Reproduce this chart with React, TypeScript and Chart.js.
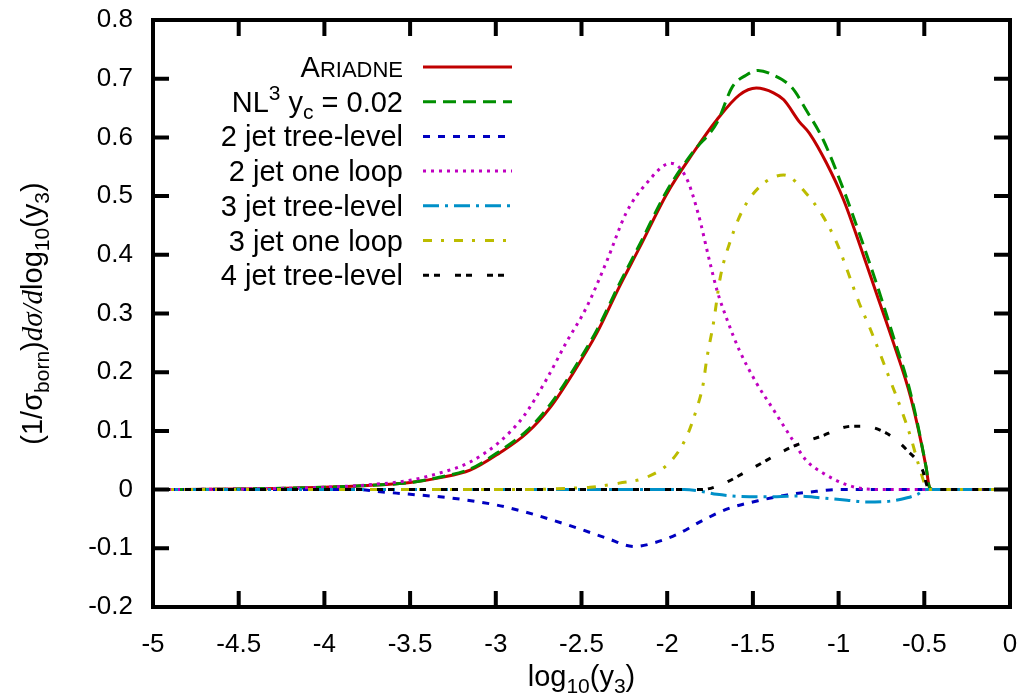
import { useEffect, useRef } from 'react';
import { Chart, registerables } from 'chart.js';

Chart.register(...registerables);

// ---------------- data ----------------
const xTickMin = -5;
const xTickMax = 0;
const xTickStep = 0.5;
const yTickMin = -0.2;
const yTickMax = 0.8;
const yTickStep = 0.1;

const seriesLabels = [
  'Ariadne',
  'NL3 yc = 0.02',
  '2 jet tree-level',
  '2 jet one loop',
  '3 jet tree-level',
  '3 jet one loop',
  '4 jet tree-level',
];

const ariadneX = [-5, -4.5, -4, -3.75, -3.5, -3.33, -3.15, -2.98, -2.82, -2.68, -2.55, -2.41, -2.28, -2.16, -2.0, -1.85, -1.71, -1.58, -1.48, -1.38, -1.32, -1.23, -1.17, -1.07, -0.97, -0.88, -0.78, -0.68, -0.58, -0.49, -0.47, -0.45, 0];
const ariadneY = [0, 0.001, 0.004, 0.007, 0.012, 0.02, 0.033, 0.062, 0.096, 0.141, 0.198, 0.267, 0.345, 0.413, 0.505, 0.573, 0.63, 0.672, 0.684, 0.676, 0.664, 0.627, 0.607, 0.556, 0.493, 0.42, 0.335, 0.25, 0.158, 0.039, 0.004, 0, 0];

const nl3X = [-5, -4.5, -4, -3.75, -3.5, -3.33, -3.15, -2.98, -2.82, -2.68, -2.55, -2.41, -2.28, -2.16, -2.0, -1.85, -1.71, -1.62, -1.54, -1.47, -1.38, -1.27, -1.19, -1.09, -0.97, -0.88, -0.78, -0.68, -0.58, -0.49, -0.47, -0.45, 0];
const nl3Y = [0, 0.001, 0.004, 0.007, 0.012, 0.021, 0.035, 0.065, 0.1, 0.146, 0.203, 0.272, 0.35, 0.418, 0.51, 0.575, 0.625, 0.686, 0.706, 0.714, 0.706, 0.684, 0.647, 0.596, 0.51, 0.437, 0.352, 0.26, 0.164, 0.039, 0.004, 0, 0];

const twoTreeX = [-5, -3.8, -3.7, -3.5, -3.27, -3.0, -2.83, -2.68, -2.51, -2.36, -2.19, -2.08, -1.94, -1.79, -1.64, -1.47, -1.3, -1.13, -1.0, 0];
const twoTreeY = [0, 0, -0.003, -0.008, -0.014, -0.026, -0.038, -0.051, -0.067, -0.082, -0.097, -0.091, -0.076, -0.052, -0.032, -0.019, -0.009, -0.003, 0, 0];

const twoLoopX = [-5, -4.5, -4, -3.75, -3.5, -3.33, -3.15, -2.98, -2.84, -2.7, -2.59, -2.47, -2.35, -2.24, -2.12, -1.98, -1.89, -1.82, -1.75, -1.71, -1.65, -1.58, -1.48, -1.38, -1.28, -1.19, -1.09, -0.95, -0.84, -0.7, 0];
const twoLoopY = [0, 0.001, 0.004, 0.008, 0.016, 0.028, 0.047, 0.081, 0.124, 0.19, 0.25, 0.311, 0.391, 0.471, 0.522, 0.556, 0.532, 0.471, 0.386, 0.34, 0.289, 0.238, 0.182, 0.136, 0.09, 0.05, 0.028, 0.008, 0.001, 0, 0];

const threeTreeX = [-5, -1.9, -1.8, -1.71, -1.52, -1.36, -1.24, -1.1, -0.95, -0.84, -0.68, -0.6, -0.54, -0.49, 0];
const threeTreeY = [0, 0, -0.003, -0.008, -0.012, -0.012, -0.011, -0.014, -0.018, -0.021, -0.019, -0.014, -0.008, 0, 0];

const threeLoopX = [-5, -2.8, -2.6, -2.45, -2.28, -2.12, -1.98, -1.89, -1.83, -1.79, -1.77, -1.73, -1.69, -1.63, -1.56, -1.46, -1.32, -1.19, -1.09, -1.01, -0.95, -0.88, -0.82, -0.76, -0.7, -0.64, -0.58, -0.53, -0.49, -0.46, 0];
const threeLoopY = [0, 0, 0.002, 0.004, 0.011, 0.021, 0.048, 0.088, 0.136, 0.18, 0.221, 0.284, 0.362, 0.425, 0.476, 0.516, 0.536, 0.505, 0.465, 0.42, 0.374, 0.318, 0.277, 0.233, 0.187, 0.141, 0.09, 0.039, 0.005, 0, 0];

const fourTreeX = [-5, -1.8, -1.69, -1.5, -1.27, -1.11, -0.92, -0.86, -0.72, -0.6, -0.51, -0.48, -0.45, 0];
const fourTreeY = [0, 0, 0.008, 0.037, 0.073, 0.09, 0.108, 0.108, 0.096, 0.067, 0.033, 0.004, 0, 0];

const seriesX = [ariadneX, nl3X, twoTreeX, twoLoopX, threeTreeX, threeLoopX, fourTreeX];
const seriesY = [ariadneY, nl3Y, twoTreeY, twoLoopY, threeTreeY, threeLoopY, fourTreeY];

// ---------------- styles ----------------
const colors = ['#c00000', '#008f00', '#0000c0', '#c000c0', '#0090c8', '#bcbc00', '#000000'];
const dashes: number[][] = [[], [13, 7], [7, 8], [3, 5], [16, 6, 3, 6], [9, 9, 3, 10], [6, 5, 6, 15]];

const SANS = '"Liberation Sans", Arial, sans-serif';
const SERIF = '"Liberation Serif", "Times New Roman", serif';
const TICK_SIZE = 26;
const LEG_SIZE = 29;
const TITLE_SIZE = 29;
const SMALL = 21;

type Seg = { t: string; size?: number; dy?: number; italic?: boolean; serif?: boolean };

const legendSegs: Seg[][] = [
  [{ t: 'A' }, { t: 'RIADNE', size: 22 }],
  [{ t: 'NL' }, { t: '3', size: SMALL, dy: -12 }, { t: ' y' }, { t: 'c', size: SMALL, dy: 7 }, { t: ' = 0.02' }],
  [{ t: seriesLabels[2] }],
  [{ t: seriesLabels[3] }],
  [{ t: seriesLabels[4] }],
  [{ t: seriesLabels[5] }],
  [{ t: seriesLabels[6] }],
];

const xTitleSegs: Seg[] = [
  { t: 'log' }, { t: '10', size: SMALL, dy: 7 }, { t: '(y' }, { t: '3', size: SMALL, dy: 7 }, { t: ')' },
];
const yTitleSegs: Seg[] = [
  { t: '(1/σ' }, { t: 'born', size: SMALL, dy: 7 }, { t: ')' },
  { t: 'dσ/d', italic: true, serif: true },
  { t: 'log' }, { t: '10', size: SMALL, dy: 7 }, { t: '(y' }, { t: '3', size: SMALL, dy: 7 }, { t: ')' },
];

function segFont(s: Seg, base: number) {
  const size = s.size ?? base;
  return `${s.italic ? 'italic ' : ''}${size}px ${s.serif ? SERIF : SANS}`;
}
function measureRich(ctx: CanvasRenderingContext2D, segs: Seg[], base: number) {
  let w = 0;
  for (const s of segs) {
    ctx.font = segFont(s, base);
    w += ctx.measureText(s.t).width;
  }
  return w;
}
function drawRich(ctx: CanvasRenderingContext2D, segs: Seg[], x: number, y: number, base: number) {
  let cx = x;
  for (const s of segs) {
    ctx.font = segFont(s, base);
    ctx.fillText(s.t, cx, y + (s.dy ?? 0));
    cx += ctx.measureText(s.t).width;
  }
}

const fmt = (v: number | string) => {
  const n = Number(v);
  const r = Math.round(n * 10) / 10;
  return Object.is(r, -0) ? '0' : String(r);
};

const framePlugin = {
  id: 'gnuplotFrame',
  afterDatasetsDraw(chart: any) {
    const { ctx, chartArea } = chart;
    const { left, right, top, bottom } = chartArea;
    const xs = chart.scales.x;
    const ys = chart.scales.y;
    ctx.save();
    ctx.strokeStyle = '#000';
    ctx.lineWidth = 4;
    ctx.lineCap = 'butt';
    ctx.setLineDash([]);
    const TL = 16;
    ctx.beginPath();
    for (const t of xs.ticks) {
      const px = xs.getPixelForValue(t.value);
      ctx.moveTo(px, bottom); ctx.lineTo(px, bottom - TL);
      ctx.moveTo(px, top); ctx.lineTo(px, top + TL);
    }
    for (const t of ys.ticks) {
      const py = ys.getPixelForValue(t.value);
      ctx.moveTo(left, py); ctx.lineTo(left + TL, py);
      ctx.moveTo(right, py); ctx.lineTo(right - TL, py);
    }
    ctx.stroke();
    ctx.strokeRect(left, top, right - left, bottom - top);

    // legend
    ctx.textBaseline = 'alphabetic';
    const textRight = left + 250;
    const lineL = left + 270;
    const lineR = left + 359;
    for (let i = 0; i < legendSegs.length; i++) {
      const ly = top + 47 + i * 34.7;
      const w = measureRich(ctx, legendSegs[i], LEG_SIZE);
      ctx.fillStyle = '#000';
      drawRich(ctx, legendSegs[i], textRight - w, ly + 10, LEG_SIZE);
      ctx.strokeStyle = colors[i];
      ctx.lineWidth = 3;
      ctx.setLineDash(dashes[i]);
      ctx.beginPath();
      ctx.moveTo(lineL, ly);
      ctx.lineTo(lineR, ly);
      ctx.stroke();
    }
    ctx.setLineDash([]);

    // axis titles
    ctx.fillStyle = '#000';
    const xw = measureRich(ctx, xTitleSegs, TITLE_SIZE);
    drawRich(ctx, xTitleSegs, (left + right) / 2 - xw / 2, bottom + 79, TITLE_SIZE);
    ctx.save();
    ctx.translate(42, (top + bottom) / 2);
    ctx.rotate(-Math.PI / 2);
    const yw = measureRich(ctx, yTitleSegs, TITLE_SIZE);
    drawRich(ctx, yTitleSegs, -yw / 2, 0, TITLE_SIZE);
    ctx.restore();
    ctx.restore();
  },
};

export default function App() {
  const ref = useRef<HTMLCanvasElement | null>(null);
  useEffect(() => {
    if (!ref.current) return;
    const datasets = seriesLabels.map((label, i) => ({
      label,
      data: seriesX[i].map((x, k) => ({ x, y: seriesY[i][k] })),
      borderColor: colors[i],
      backgroundColor: colors[i],
      borderWidth: 3,
      borderDash: dashes[i],
      pointRadius: 0,
      fill: false,
      cubicInterpolationMode: 'monotone' as const,
      order: seriesLabels.length - i,
    }));
    const chart = new Chart(ref.current, {
      type: 'line',
      data: { datasets },
      options: {
        animation: false,
        responsive: false,
        maintainAspectRatio: false,
        layout: { padding: { top: 20, right: 11, left: 0, bottom: 0 } },
        plugins: { legend: { display: false }, tooltip: { enabled: false }, title: { display: false } },
        scales: {
          x: {
            type: 'linear',
            min: xTickMin,
            max: xTickMax,
            afterFit: (s: any) => { s.height = 91; s.paddingLeft = 0; s.paddingRight = 0; },
            grid: { display: false, drawTicks: false },
            border: { display: false },
            ticks: {
              stepSize: xTickStep,
              autoSkip: false,
              maxRotation: 0,
              padding: 22,
              color: '#000',
              font: { family: SANS, size: TICK_SIZE },
              callback: (v: any) => fmt(v),
            },
          },
          y: {
            type: 'linear',
            min: yTickMin,
            max: yTickMax,
            afterFit: (s: any) => { s.width = 153; s.paddingTop = 0; s.paddingBottom = 0; },
            grid: { display: false, drawTicks: false },
            border: { display: false },
            ticks: {
              stepSize: yTickStep,
              autoSkip: false,
              padding: 20,
              color: '#000',
              font: { family: SANS, size: TICK_SIZE },
              callback: (v: any) => fmt(v),
            },
          },
        },
      },
      plugins: [framePlugin],
    });
    return () => chart.destroy();
  }, []);
  return (
    <div style={{ position: 'absolute', left: 0, top: 0, width: 1021, height: 698, background: '#fff' }}>
      <canvas ref={ref} width={1021} height={698} style={{ display: 'block' }} />
    </div>
  );
}
